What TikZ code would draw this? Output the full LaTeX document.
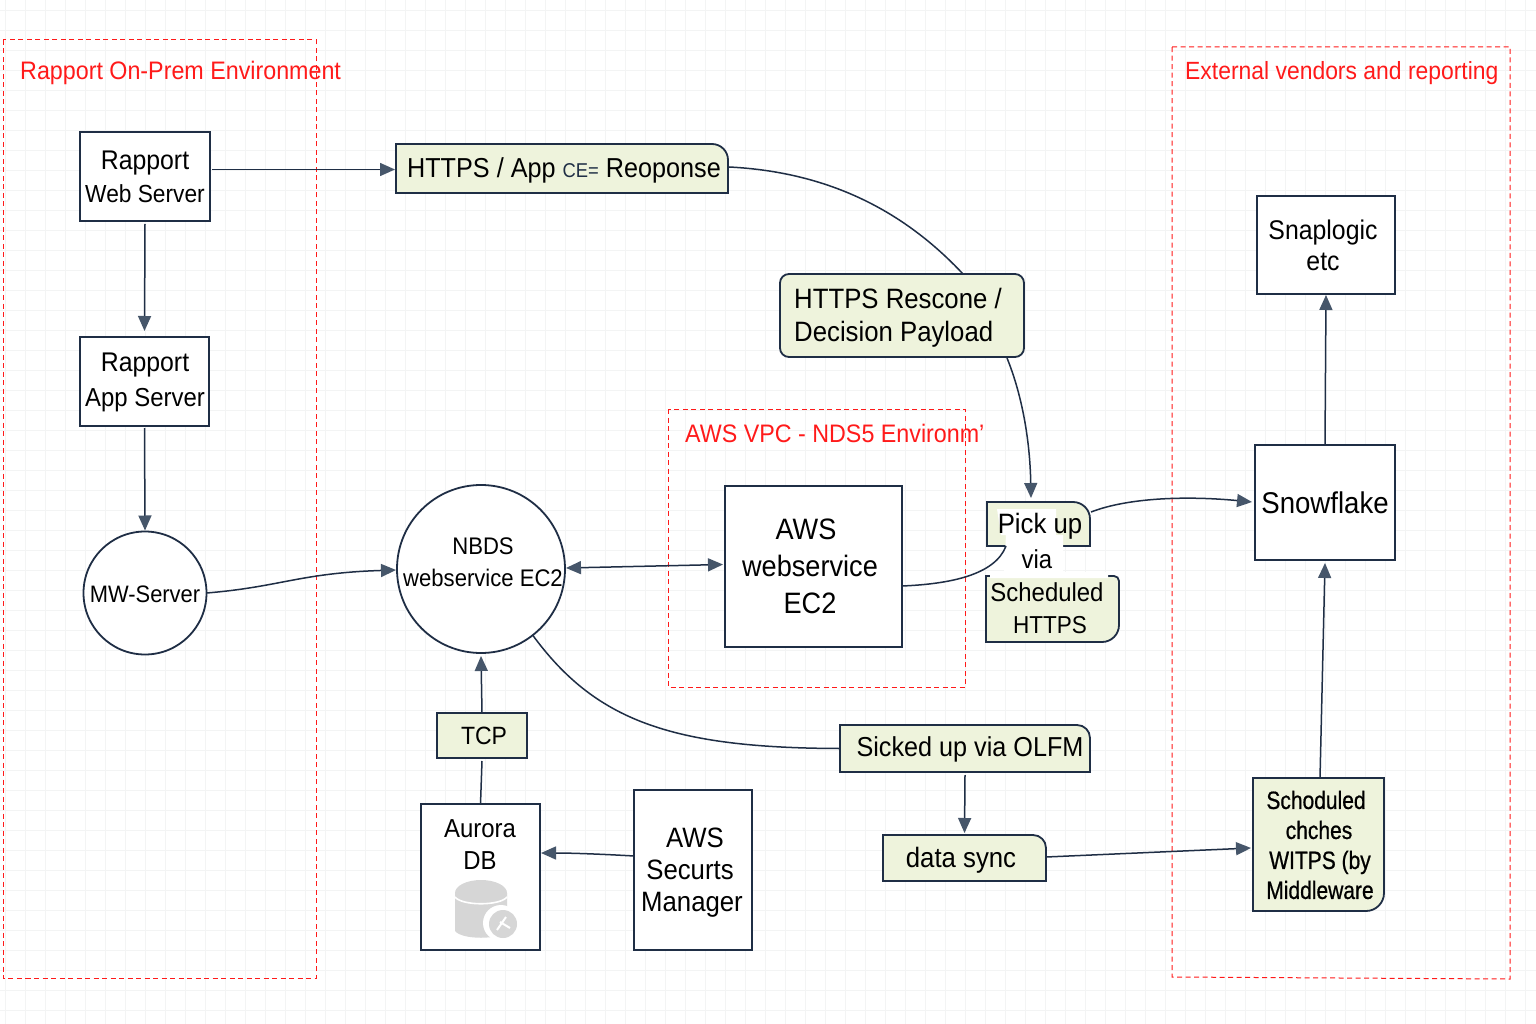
\documentclass[tikz,border=0pt]{standalone}
\usepackage{fontspec}
\setmainfont[FakeStretch=0.92]{Liberation Sans}
\newfontfamily\witfont[FakeStretch=0.84,FakeBold=0.7]{Liberation Sans}
\usetikzlibrary{arrows.meta,backgrounds,calc}
\definecolor{ink}{HTML}{1F2E45}
\definecolor{tipc}{HTML}{46566A}
\definecolor{paleg}{HTML}{EEF3DC}
\definecolor{redl}{HTML}{FF1A1A}
\definecolor{gridc}{HTML}{F3F4F4}
\newcommand\fsz[2]{\fontsize{#1}{#2}\selectfont}
\newcommand\bx[7][]{\node[basebox,#1,minimum width={(#5-#3)*1pt},minimum height={(#6-#4)*1pt}] (#2) at ({(#3+#5)/2},{(#4+#6)/2}) {#7};}
\tikzset{
  basebox/.style={inner sep=0pt,outer sep=0pt,align=center,text=black,font=\fsz{26}{32}},
  labeltext/.style={inner sep=0pt,align=center,text=black},
  plainbox/.style={draw=ink,line width=1.8pt,fill=white},
  roundnode/.style={draw=ink,line width=1.8pt,fill=white,circle,inner sep=0pt,outer sep=0pt},
  greenshape/.style={draw=ink,line width=1.8pt,fill=paleg},
  zone/.style={draw=redl,line width=1pt,dash pattern=on 5pt off 3.5pt},
  zonetitle/.style={text=redl,inner sep=0pt,font=\fsz{25.3}{30}},
  conn/.style={draw=ink,line width=1.5pt},
  arr/.style={conn,-{Triangle[length=15pt,width=13pt,fill=tipc,color=tipc]}},
  arrb/.style={conn,{Triangle[length=15pt,width=13pt,fill=tipc,color=tipc]}-{Triangle[length=15pt,width=13pt,fill=tipc,color=tipc]}},
  gridl/.style={draw=gridc,line width=0.7pt},
  x=1pt,y=-1pt
}
\begin{document}
\begin{tikzpicture}
\useasboundingbox (0,0) rectangle (1536,1024);
\begin{scope}[on background layer]
\fill[white] (0,0) rectangle (1536,1024);
\foreach \gx in {5,25,...,1535} {\draw[gridl] (\gx,0) -- (\gx,1024);}
\foreach \gy in {10,30,...,1020} {\draw[gridl] (0,\gy) -- (1536,\gy);}
\end{scope}

% plain boxes
\bx[plainbox]{web}{80}{132}{210}{221}{}
\node[labeltext,font=\fsz{27}{33}] (webtxt) at (145,176.5) {Rapport\\{\fsz{24.7}{33}Web Server}};
\bx[plainbox]{app}{80}{337}{209}{426}{}
\node[labeltext,font=\fsz{27}{35}] (apptxt) at (145,382) {Rapport\\{\fsz{26}{35}App Server}};
\node[roundnode,minimum size=123pt] (mw) at (145,593) {};
\node[labeltext,font=\fsz{23.8}{30}] (mwtxt) at (145,594) {MW-Server};
\node[roundnode,minimum size=168pt] (nbds) at (481,569) {};
\node[labeltext,font=\fsz{24}{32}] (nbdstxt) at (483,562) {NBDS\\webservice EC2};
\bx[plainbox]{ws}{725}{486}{902}{647}{}
\node[labeltext,font=\fsz{29.5}{37}] (wstxt) at (810,566) {\hspace*{-8pt}AWS\\webservice\\EC2};
\bx[plainbox]{snap}{1257}{196}{1395}{294}{}
\node[labeltext,font=\fsz{27}{31}] (snaptxt) at (1323,245) {Snaplogic\\etc};
\bx[plainbox,font=\fsz{30}{34}]{snow}{1255}{445}{1395}{560}{Snowflake}
\bx[plainbox]{aurora}{421}{804}{540}{950}{}
\node[labeltext,font=\fsz{26}{32}] (auroratxt) at (480,845) {Aurora\\DB};
\bx[plainbox]{secrets}{634}{790}{752}{950}{}
\node[labeltext,font=\fsz{28}{32}] (secretstxt) at (692,873) {\hspace*{6pt}AWS\\\hspace*{-4pt}Securts\\Manager};

% green boxes (text nodes, shapes drawn behind)
\bx{httpsapp}{396}{144}{728}{193}{}
\node[labeltext,font=\fsz{27.4}{32}] (httpsapptxt) at (564,170) {HTTPS / App {\color{ink}\fsz{20}{20}CE=} Reoponse};
\bx{rescone}{780}{274}{1024}{357}{}
\node[labeltext,anchor=west,align=left,font=\fsz{28}{33}] (resconetxt) at (794,318) {HTTPS Rescone /\\Decision Payload};
\bx{pick}{987}{502}{1090}{546}{}
\bx{sched}{986}{576}{1119}{642}{}
\bx{tcp}{437}{713}{527}{758}{}
\node[labeltext,font=\fsz{25}{30}] (tcptxt) at (484,736) {TCP};
\bx{sicked}{840}{725}{1090}{772}{}
\node[labeltext,font=\fsz{27.4}{32}] (sickedtxt) at (970,749) {Sicked up via OLFM};
\bx{dsync}{883}{835}{1046}{881}{}
\node[labeltext,font=\fsz{28}{32}] (dsynctxt) at (961,860) {data sync};
\bx{wit}{1253}{778}{1384}{911}{}
\node[labeltext,font=\witfont\fsz{25}{30}] (wittxt) at (1319,845) {\hspace*{-6pt}Schoduled\\chches\\\hspace*{2pt}WITPS (by\\\hspace*{2pt}Middleware};
\begin{scope}[on background layer]
  \draw[greenshape] (httpsapp.south west) -- (httpsapp.north west) [rounded corners=16pt] -- (httpsapp.north east) [sharp corners] -- (httpsapp.south east) -- cycle;
  \draw[greenshape,rounded corners=9pt] (rescone.south west) -- (rescone.north west) -- (rescone.north east) -- (rescone.south east) -- cycle;
  \draw[greenshape] (pick.south west) -- (pick.north west) [rounded corners=17pt] -- (pick.north east) [sharp corners] -- (pick.south east) -- cycle;
  \draw[greenshape] (sched.south west) -- (sched.north west) [rounded corners=5pt] -- (sched.north east) [rounded corners=17pt] -- (sched.south east) [sharp corners] -- cycle;
  \draw[greenshape] (tcp.south west) rectangle (tcp.north east);
  \draw[greenshape] (sicked.south west) -- (sicked.north west) [rounded corners=13pt] -- (sicked.north east) [sharp corners] -- (sicked.south east) -- cycle;
  \draw[greenshape] (dsync.south west) -- (dsync.north west) [rounded corners=13pt] -- (dsync.north east) [sharp corners] -- (dsync.south east) -- cycle;
  \draw[greenshape] (wit.south west) -- (wit.north west) -- (wit.north east) [rounded corners=18pt] -- (wit.south east) [sharp corners] -- cycle;
\end{scope}

% white patches around the Pick up / via text
\fill[white] (997,509) -- (1056,509) -- (1056,535) -- (1063,535) -- (1063,572) -- (1108,572) -- (1108,578) -- (990,578) -- (990,572) -- (1004,572) -- (1006,535) -- (1001,535) -- cycle;
\node[labeltext,font=\fsz{28}{32}] (picktxt) at (1040,526) {Pick up};
\node[labeltext,font=\fsz{26}{32}] (viatxt) at (1037,559) {via};
\node[labeltext,font=\fsz{26}{32}] (schedtxt) at (1049,608) {\hspace*{-4pt}Scheduled\\{\fsz{24.5}{32}\hspace*{2pt}HTTPS}};

% Aurora DB icon
\fill[black!16] (455,893) -- (455,931) .. controls (462,940) and (500,940) .. (507,931) -- (507,893) -- cycle;
\fill[black!16] (481,893) ellipse (26pt and 13pt);
\draw[white,line width=1.6pt] (455,897) .. controls (462,906) and (500,906) .. (507,897);
\fill[white] (501,923) circle (18pt);
\fill[black!16] (503,924) circle (14pt);
\draw[white,line width=2pt] (497,930) -- (506,917) (500,922) -- (510,928);

% zones
\draw[zone] (3,40) rectangle (316,978);
\draw[zone] (1172,47) -- (1510,47) -- (1510,979) -- (1172,977) -- cycle;
\draw[zone] (668,409) rectangle (965,687);
\node[zonetitle,anchor=west] (t1) at (20,72.5) {Rapport On-Prem Environment};
\node[zonetitle,anchor=west,font=\fsz{24.9}{30}] (t2) at (1185,73) {External vendors and reporting};
\node[zonetitle,anchor=west] (t3) at (685,433) {AWS VPC - NDS5 Environm'};

% connectors
\draw[arr] (web.east |- httpsapp.west) ++(2,1) -- ($(httpsapp.west)+(-1,1)$);
\draw[arr] ($(web.south)+(0,3)$) -- ($(app.north)+(0,-6)$);
\draw[arr] ($(app.south)+(0,2)$) -- ($(mw.north)+(0,-1)$);
\draw[arr] (mw.east) .. controls (280,587) and (300,573) .. ($(nbds.west)+(-1,1)$);
\draw[arrb] ($(nbds.east)+(1,-1)$) -- ($(ws.west)+(-2,-2)$);
\draw[arr] (tcp.north) -- ($(nbds.south)+(0,3)$);
\draw[conn] (aurora.north) -- ($(tcp.south)+(0,3)$);
\draw[arr] (secrets.west |- 0,856) .. controls (600,854) and (570,853) .. (541,853);
\draw[conn] (nbds.-52) .. controls (595,720) and (670,748) .. (sicked.west);
\draw[arr] ($(sicked.south)+(0,3)$) -- ($(dsync.north)+(0,-2)$);
\draw[arr] (dsync.east |- 0,857) -- (1251,848);
\draw[arr] (1320,778) -- ($(snow.south)+(0,3)$);
\draw[arr] (snow.north) -- ($(snap.north |- snap.south)+(0,1)$);
\draw[arr] (1091,512) .. controls (1130,497) and (1190,496) .. (1252,502);
\draw[conn] (902,586) .. controls (950,584) and (995,575) .. (1006,546);
\draw[conn] (729,167) .. controls (830,172) and (905,212) .. (963,274);
\draw[arr] (1007,358) .. controls (1022,395) and (1030,440) .. (1031,498);
\end{tikzpicture}
\end{document}
